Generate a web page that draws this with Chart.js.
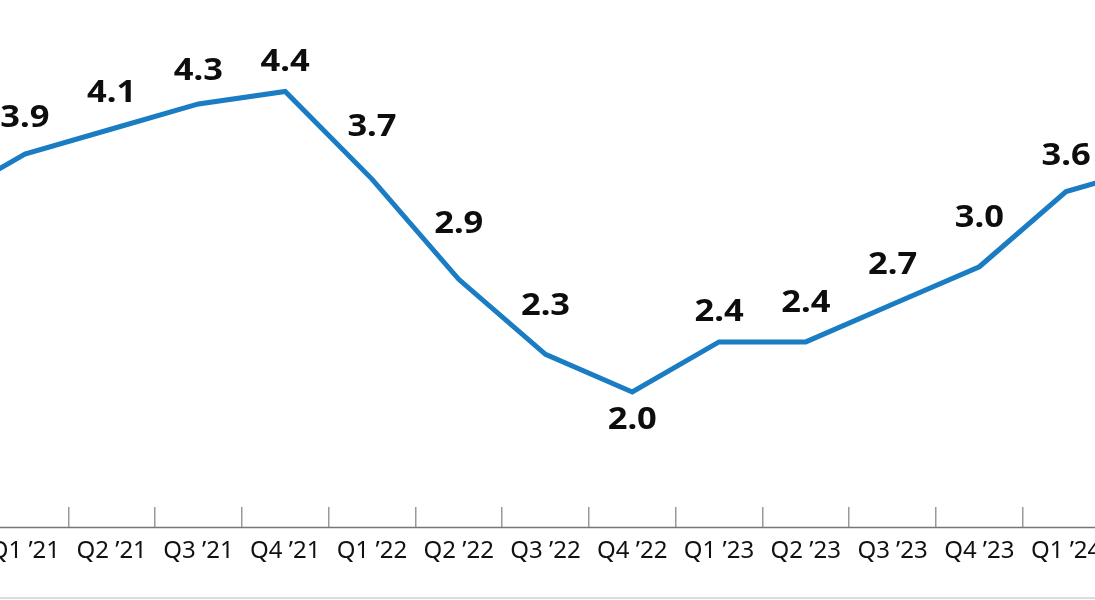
<!DOCTYPE html>
<html>
<head>
<meta charset="utf-8">
<script src="https://cdn.jsdelivr.net/npm/chart.js@4"></script>
<style>
  html, body { margin: 0; padding: 0; background: #fff; }
  body { width: 1095px; height: 600px; overflow: hidden; position: relative; }
  #growthChart { position: absolute; left: -107px; top: 0; }
  .rule { position: absolute; left: 0; top: 597px; width: 1095px; border-top: 2px solid #dcdcdc; }
</style>
</head>
<body>
<canvas id="growthChart" width="1305" height="600"></canvas>
<div class="rule"></div>
<script>
// Quarterly values (first and last quarter are only partly in view)
const quarters = ['Q4 ’20', 'Q1 ’21', 'Q2 ’21', 'Q3 ’21', 'Q4 ’21', 'Q1 ’22', 'Q2 ’22', 'Q3 ’22',
                  'Q4 ’22', 'Q1 ’23', 'Q2 ’23', 'Q3 ’23', 'Q4 ’23', 'Q1 ’24', 'Q2 ’24'];
const growth = [3.5, 3.9, 4.1, 4.3, 4.4, 3.7, 2.9, 2.3, 2.0, 2.4, 2.4, 2.7, 3.0, 3.6, 3.8];
const yMin = 1.08;
const yMax = 5.13;

// Value labels above each point, pushed up where the line climbs towards the label
const pointLabels = {
    id: 'pointLabels',
    afterDatasetsDraw(chart) {
        const ctx = chart.ctx;
        const pts = chart.getDatasetMeta(0).data;
        ctx.save();
        ctx.font = 'bold 30px "Noto Sans"';
        ctx.fillStyle = '#0d0d0d';
        ctx.textAlign = 'center';
        ctx.textBaseline = 'middle';
        pts.forEach((p, i) => {
            const prev = pts[i - 1];
            const next = pts[i + 1];
            const riseL = prev ? (p.y - prev.y) / (p.x - prev.x) : 0;
            const riseR = next ? (p.y - next.y) / (next.x - p.x) : 0;
            let y;
            if (riseL > 0 && riseR > 0) {
                y = p.y + 28; // trough: put label underneath
            } else {
                y = p.y - (29 + 22 * Math.max(0, riseL, riseR));
            }
            ctx.save();
            ctx.translate(p.x, y);
            ctx.scale(1.15, 1);
            ctx.fillText(growth[i].toFixed(1), 0, 0);
            ctx.restore();
        });
        ctx.restore();
    }
};

// Axis line sits at the foot of the tick marks
const baseLine = {
    id: 'baseLine',
    afterDraw(chart) {
        const x = chart.scales.x;
        const y = Math.round(x.top + x.options.grid.tickLength) + 0.5;
        const ctx = chart.ctx;
        ctx.save();
        ctx.strokeStyle = '#777';
        ctx.lineWidth = 1.5;
        ctx.beginPath();
        ctx.moveTo(0, y);
        ctx.lineTo(chart.width, y);
        ctx.stroke();
        ctx.restore();
    }
};

const ctx = document.getElementById('growthChart').getContext('2d');
const growthChart = new Chart(ctx, {
    type: 'line',
    data: {
        labels: quarters,
        datasets: [{
            data: growth,
            borderColor: '#1a7cc2',
            borderWidth: 5,
            pointRadius: 0,
            tension: 0,
            fill: false
        }]
    },
    options: {
        responsive: false,
        animation: false,
        devicePixelRatio: 1,
        layout: { padding: { left: 0, right: 0, top: 0, bottom: 24 } },
        plugins: {
            legend: { display: false },
            tooltip: { enabled: false }
        },
        scales: {
            x: {
                offset: true,
                border: { display: false },
                grid: {
                    offset: true,
                    drawOnChartArea: false,
                    drawTicks: true,
                    tickLength: 20,
                    color: '#9a9a9a',
                    lineWidth: 1.5
                },
                ticks: {
                    color: '#111',
                    font: { family: '"Noto Sans"', size: 24 },
                    padding: 10,
                    maxRotation: 0,
                    autoSkip: false
                }
            },
            y: {
                display: false,
                min: yMin,
                max: yMax
            }
        }
    },
    plugins: [pointLabels, baseLine]
});
</script>
</body>
</html>
